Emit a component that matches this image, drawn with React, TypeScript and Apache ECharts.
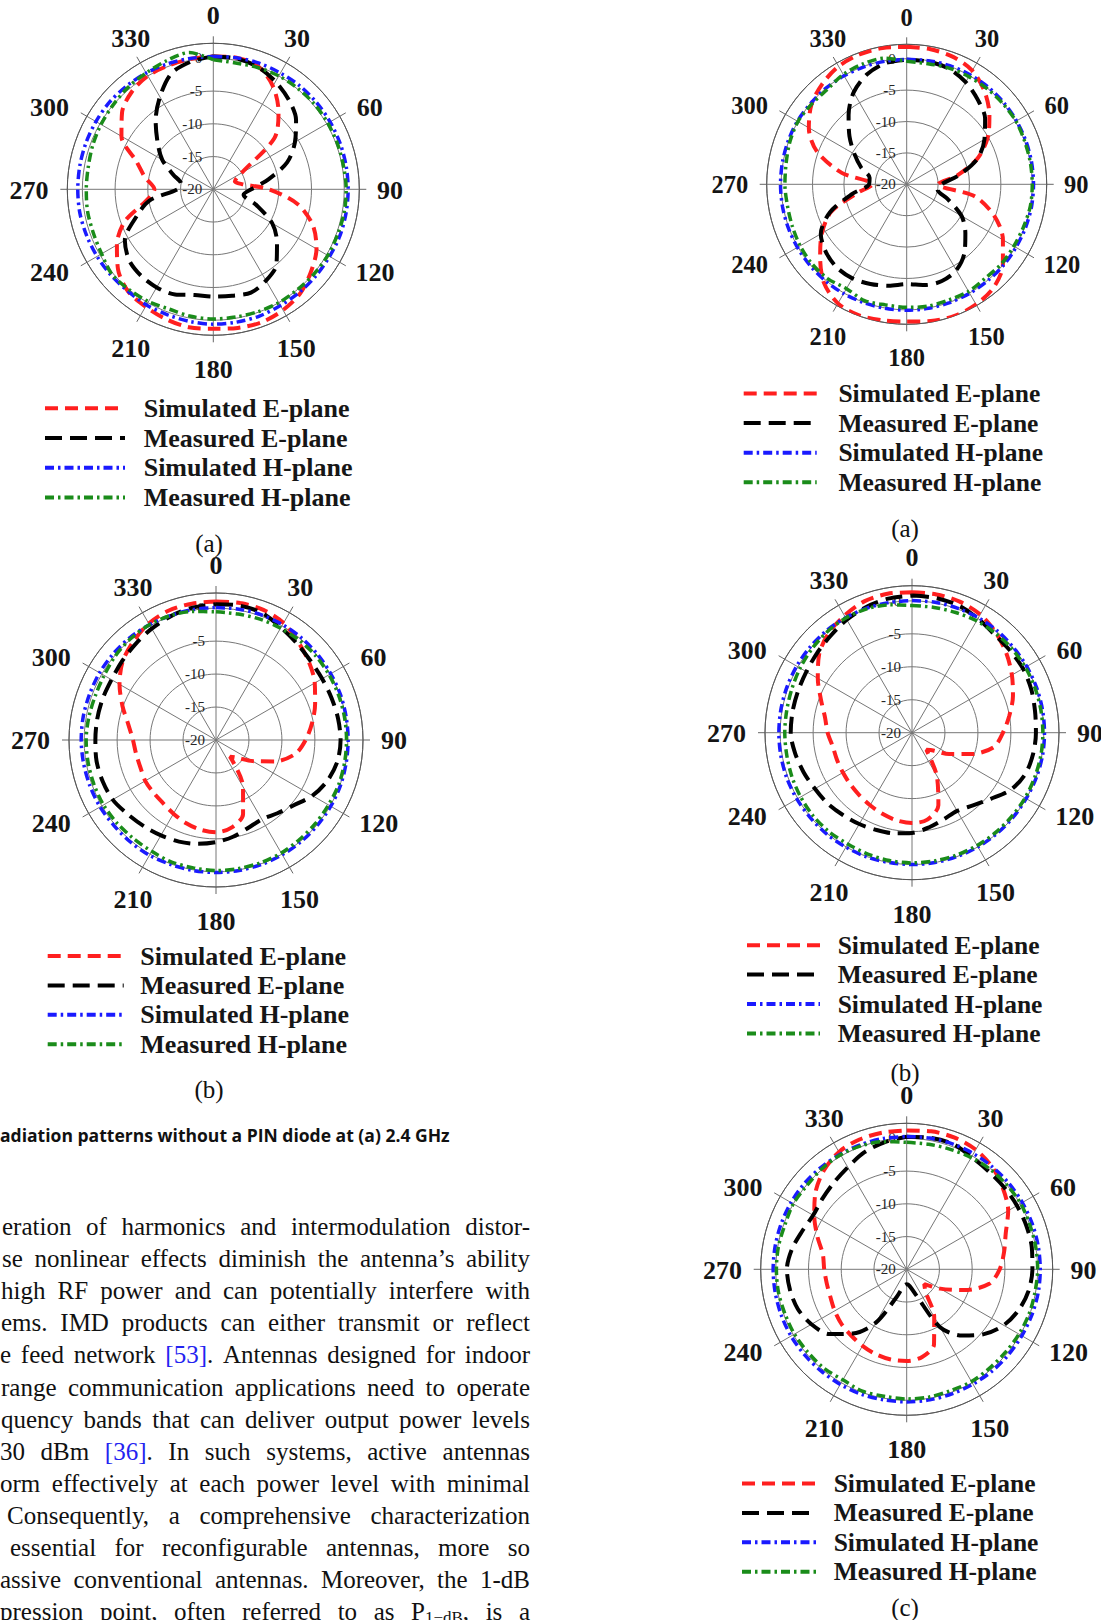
import React, { useEffect, useRef } from "react";
import * as echarts from "echarts";

// ---------- data ----------
const ANGLES = [0, 10, 20, 30, 40, 50, 60, 70, 80, 90, 100, 110, 120, 130, 140, 150, 160, 170, 180, 190, 200, 210, 220, 230, 240, 250, 260, 270, 280, 290, 300, 310, 320, 330, 340, 350];
const ANGLE_TICKS = [0, 30, 60, 90, 120, 150, 180, 210, 240, 270, 300, 330];
const RADIUS_TICKS = [-20, -15, -10, -5, 0];
const SERIES_NAMES = ["Simulated E-plane", "Measured E-plane", "Simulated H-plane", "Measured H-plane"];
const PANEL_LABELS = ["(a)", "(b)", "(a)", "(b)", "(c)"];

// Left (a)
const LA_SIM_E = [0.3, 0.4, 0.0, -1.8, -4.5, -7.8, -15.0, -16.5, -15.5, -11.5, -6.9, -3.8, -1.8, -0.5, 0.7, 1.3, 1.6, 1.5, 1.3, 1.4, 1.1, 0.7, 0.3, -1.0, -3.0, -5.6, -9.5, -11.0, -9.4, -7.5, -3.8, -1.8, -0.6, 0.0, 0.1, 0.2];
const LA_MEAS_E = [0.3, 0.3, -0.1, -1.0, -2.1, -3.5, -5.6, -8.0, -11.5, -14.2, -15.3, -13.0, -9.6, -7.3, -5.0, -3.9, -3.2, -3.5, -3.6, -3.6, -2.9, -2.7, -2.8, -3.2, -4.4, -7.4, -10.1, -14.5, -15.0, -13.5, -11.0, -8.9, -6.3, -3.7, -1.2, -0.2];
const LA_SIM_H = [0.3, 0.4, 0.5, 0.5, 0.6, 0.6, 0.6, 0.6, 0.6, 0.6, 0.6, 0.6, 0.5, 0.5, 0.5, 0.5, 0.6, 0.6, 0.6, 0.5, 0.4, 0.4, 0.3, 0.4, 0.5, 0.6, 0.7, 0.7, 0.7, 0.7, 0.7, 0.7, 0.6, 0.5, 0.4, 0.3];
const LA_MEAS_H = [-0.2, -0.4, -0.2, 0.0, 0.1, 0.2, 0.2, 0.2, 0.2, 0.3, 0.3, 0.2, 0.2, 0.1, 0.0, 0.0, -0.1, -0.2, -0.2, -0.3, -0.5, -0.2, 0.0, 0.2, -0.3, -0.5, -0.5, -0.6, -0.6, -0.4, -0.2, 0.0, 0.3, 0.5, 0.9, 1.2];

// Left (b)
const LB_SIM_E = [1.0, 1.1, 1.0, 0.5, -0.6, -1.6, -2.7, -4.0, -5.2, -6.4, -7.8, -10.5, -13.6, -15.8, -16.7, -11.8, -8.0, -6.5, -6.0, -6.2, -6.6, -7.1, -7.5, -7.6, -7.6, -7.8, -7.7, -7.4, -6.5, -4.9, -3.1, -1.5, -0.5, 0.4, 0.9, 1.0];
const LB_MEAS_E = [0.6, 0.7, 0.5, -0.3, -0.9, -1.3, -1.4, -1.35, -1.2, -1.1, -1.3, -2.0, -3.1, -4.6, -5.5, -6.1, -5.8, -5.1, -4.5, -4.0, -3.6, -3.3, -2.95, -2.5, -1.9, -1.7, -1.6, -1.7, -1.7, -1.7, -1.7, -1.4, -1.0, -0.5, 0.0, 0.4];
const LB_SIM_H = [0.1, 0.15, 0.2, 0.2, 0.2, 0.15, 0.1, 0.1, 0.05, 0.05, 0.05, 0.1, 0.1, 0.1, 0.1, 0.1, 0.1, 0.1, 0.1, 0.1, 0.1, 0.2, 0.2, 0.2, 0.3, 0.35, 0.4, 0.45, 0.45, 0.4, 0.4, 0.35, 0.3, 0.2, 0.1, 0.1];
const LB_MEAS_H = [-0.55, -0.6, -0.5, -0.4, -0.3, -0.2, -0.2, -0.2, -0.2, -0.2, -0.2, -0.2, -0.3, -0.3, -0.3, -0.2, -0.2, -0.2, -0.2, -0.3, -0.3, -0.5, -0.5, -0.4, -0.3, -0.3, -0.3, -0.3, -0.4, -0.5, -0.4, -0.1, 0.1, 0.2, 0.1, -0.2];

// Right (a)
const RA_SIM_E = [1.9, 1.85, 1.6, 0.9, -0.7, -2.8, -5.1, -8.0, -11.8, -15.0, -9.0, -5.1, -2.3, 0.0, 1.5, 2.1, 2.3, 2.1, 1.85, 2.0, 2.2, 1.9, 0.5, -2.0, -4.4, -7.2, -12.0, -14.5, -9.5, -4.8, -2.0, -0.2, 0.9, 1.7, 2.0, 2.05];
const RA_MEAS_E = [-0.15, -0.15, -0.4, -1.2, -2.4, -3.7, -5.7, -8.0, -11.5, -14.5, -15.0, -13.0, -9.9, -7.8, -5.7, -4.2, -3.6, -3.7, -4.1, -3.6, -3.1, -2.7, -2.7, -3.2, -4.2, -7.0, -11.2, -14.0, -14.0, -12.3, -10.4, -8.1, -5.6, -3.1, -1.4, -0.4];
const RA_SIM_H = [-0.1, 0.0, 0.1, 0.15, 0.2, 0.2, 0.2, 0.2, 0.2, 0.2, 0.2, 0.15, 0.1, 0.1, 0.05, 0.05, 0.05, 0.05, 0.05, 0.05, 0.05, 0.1, 0.1, 0.1, 0.1, 0.1, 0.1, 0.1, 0.1, 0.1, 0.1, 0.0, 0.0, -0.05, -0.1, -0.1];
const RA_MEAS_H = [-0.4, -0.5, -0.3, -0.2, -0.1, 0.0, 0.1, 0.0, 0.0, 0.0, 0.0, -0.2, -0.3, -0.3, -0.5, -0.3, -0.4, -0.3, -0.4, -0.5, -0.3, -0.8, -0.4, -0.3, -0.4, -0.6, -0.7, -0.6, -0.5, -0.2, 0.0, -0.2, -0.3, 0.2, 0.4, 0.4];

// Right (b)
const RB_SIM_E = [1.3, 1.3, 1.15, 0.7, -0.2, -1.3, -2.5, -3.7, -5.0, -6.2, -7.4, -10.5, -13.5, -15.8, -16.6, -12.5, -8.3, -6.6, -6.3, -6.5, -6.9, -7.3, -7.6, -7.8, -7.9, -7.9, -7.8, -7.2, -6.6, -5.3, -3.5, -1.6, -0.3, 0.5, 1.2, 1.4];
const RB_MEAS_E = [0.8, 0.75, 0.55, 0.0, -0.55, -0.6, -0.55, -0.75, -1.05, -1.2, -1.35, -1.7, -2.7, -4.4, -5.6, -6.3, -6.0, -5.4, -4.8, -4.5, -4.3, -4.0, -3.7, -3.3, -3.0, -2.5, -2.0, -1.6, -1.6, -1.6, -1.5, -1.2, -0.8, -0.2, 0.3, 0.65];
const RB_SIM_H = [0.05, 0.1, 0.1, 0.15, 0.15, 0.1, 0.1, 0.1, 0.1, 0.1, 0.1, 0.05, 0.0, 0.0, 0.0, 0.0, 0.0, 0.0, 0.0, 0.0, 0.05, 0.05, 0.1, 0.1, 0.15, 0.2, 0.2, 0.2, 0.2, 0.2, 0.2, 0.2, 0.2, 0.15, 0.1, 0.05];
const RB_MEAS_H = [-0.7, -0.7, -0.6, -0.4, -0.3, -0.2, -0.15, -0.15, -0.15, -0.15, -0.15, -0.2, -0.2, -0.25, -0.25, -0.25, -0.25, -0.25, -0.25, -0.3, -0.4, -0.5, -0.4, -0.4, -0.5, -0.6, -0.7, -0.7, -0.7, -0.6, -0.4, -0.2, 0.0, 0.1, 0.0, -0.3];

// Right (c)
const RC_SIM_E = [1.2, 1.4, 1.4, 1.1, 0.35, -0.8, -2.1, -3.9, -4.9, -5.8, -7.2, -10.7, -14.1, -16.5, -15.5, -11.6, -7.8, -6.4, -6.0, -6.0, -6.2, -6.5, -6.8, -7.0, -7.3, -7.6, -7.6, -7.4, -7.0, -5.5, -3.7, -1.8, -0.3, 0.7, 1.1, 1.2];
const RC_MEAS_E = [0.25, 0.4, 0.4, -0.2, -0.5, -0.55, -0.55, -0.55, -0.6, -0.8, -1.1, -1.8, -2.9, -4.6, -6.8, -9.8, -15.8, -17.4, -17.7, -17.4, -15.5, -10.6, -7.2, -4.6, -3.2, -2.3, -1.9, -1.7, -2.2, -3.0, -3.5, -3.2, -2.7, -2.0, -1.0, -0.3];
const RC_SIM_H = [0.3, 0.35, 0.4, 0.4, 0.4, 0.4, 0.4, 0.4, 0.4, 0.4, 0.4, 0.35, 0.3, 0.3, 0.3, 0.25, 0.25, 0.25, 0.25, 0.25, 0.3, 0.3, 0.3, 0.35, 0.4, 0.4, 0.4, 0.4, 0.4, 0.4, 0.4, 0.4, 0.35, 0.3, 0.3, 0.3];
const RC_MEAS_H = [-0.6, -0.6, -0.5, -0.3, -0.1, 0.0, 0.1, 0.0, 0.0, 0.0, -0.1, -0.1, -0.2, -0.3, -0.3, -0.2, -0.3, -0.2, -0.2, -0.3, -0.2, -0.5, -0.3, -0.3, -0.2, -0.2, -0.1, -0.1, -0.1, -0.2, 0.0, -0.1, 0.1, 0.2, 0.1, -0.2];

const PANEL_DATA = [
  [LA_SIM_E, LA_MEAS_E, LA_SIM_H, LA_MEAS_H],
  [LB_SIM_E, LB_MEAS_E, LB_SIM_H, LB_MEAS_H],
  [RA_SIM_E, RA_MEAS_E, RA_SIM_H, RA_MEAS_H],
  [RB_SIM_E, RB_MEAS_E, RB_SIM_H, RB_MEAS_H],
  [RC_SIM_E, RC_MEAS_E, RC_SIM_H, RC_MEAS_H],
];

const BODY_LINES = [
  "eration of harmonics and intermodulation distor-",
  "se nonlinear effects diminish the antenna\u2019s ability",
  "high RF power and can potentially interfere with",
  "ems. IMD products can either transmit or reflect",
  "e feed network [53]. Antennas designed for indoor",
  "range communication applications need to operate",
  "quency bands that can deliver output power levels",
  "30 dBm [36]. In such systems, active antennas",
  "orm effectively at each power level with minimal",
  "Consequently, a comprehensive characterization",
  "essential for reconfigurable antennas, more so",
  "assive conventional antennas. Moreover, the 1-dB",
  "pression point, often referred to as P1\u2212dB, is a",
];
const FIGURE_CAPTION = "adiation patterns without a PIN diode at (a) 2.4 GHz";

// ---------- layout / style ----------
const PANELS = [
  { cx: 213.3, cy: 189.3, r: 146, fs: 26, lab: [209, 543] },
  { cx: 216, cy: 740, r: 147, fs: 26, lab: [209, 1089] },
  { cx: 906.7, cy: 184.3, r: 140, fs: 24.5, lab: [905, 528] },
  { cx: 912, cy: 732.7, r: 147, fs: 26, lab: [905, 1072] },
  { cx: 906.7, cy: 1269.3, r: 146, fs: 26, lab: [905, 1607] },
];
// offset of each angle label's centre from the polar centre (for a 146 px radius)
const LABEL_DX = [0, 83.7, 156.4, 176.7, 161.7, 83, 0, -82.3, -163.7, -184.3, -163.7, -82.3];
const LABEL_DY = [-173.8, -151.3, -81.9, 0.7, 83.4, 158.7, 180.4, 158.7, 83.4, 0.7, -81.9, -151.3];
const LEGENDS = [
  { left: 38, top: 390.3, w: 80, gap: 3.7, pad: 13.7, fs: 26 },
  { left: 40.7, top: 938, w: 76, gap: 3.4, pad: 11.6, fs: 26 },
  { left: 736.7, top: 375.5, w: 73, gap: 3.6, pad: 16.7, fs: 25.5 },
  { left: 740, top: 927.2, w: 73, gap: 3.4, pad: 12.7, fs: 25.5 },
  { left: 735, top: 1465.5, w: 75, gap: 3.4, pad: 11.7, fs: 25.5 },
];
const STYLES = [
  { color: "#ff1f1f", width: 4, dash: [13, 7] },
  { color: "#000000", width: 4, dash: [17, 8] },
  { color: "#1a1aff", width: 3.5, dash: [9, 4, 2.5, 4] },
  { color: "#1a8c1a", width: 3.5, dash: [9, 4, 2.5, 4] },
];
const R_MAX = 2.3;
const SERIF = "Liberation Serif";
const LABEL_MARGIN = -20;

function closeLoop(vals: number[]) {
  const pts = ANGLES.map((a, i) => [vals[i], a]);
  pts.push([vals[0], 360]);
  return pts;
}

let measureCtx: CanvasRenderingContext2D | null = null;
function textWidth(t: string, font: string) {
  if (!measureCtx) measureCtx = document.createElement("canvas").getContext("2d");
  measureCtx!.font = font;
  return measureCtx!.measureText(t).width;
}

// rich styles (paddings) that move each axis label's centre to its offset
function angleRich(p: any) {
  const rich: any = {};
  const B = p.r + LABEL_MARGIN;
  const k = p.r / 146;
  ANGLE_TICKS.forEach((a, i) => {
    const th = (a * Math.PI) / 180;
    const ux = Math.sin(th);
    const uy = -Math.cos(th);
    const w = textWidth(String(a), `bold ${p.fs}px "${SERIF}"`);
    const h = p.fs;
    const dx = LABEL_DX[i] * k - B * ux;
    const dy = LABEL_DY[i] * k - B * uy;
    let pl = 0, pr = 0, pt = 0, pb = 0;
    const hAlign = Math.abs(B * ux) / p.r < 0.3 ? "center" : ux > 0 ? "left" : "right";
    const vAlign = Math.abs(B * uy) / p.r < 0.3 ? "middle" : uy > 0 ? "top" : "bottom";
    if (hAlign === "left") pl = dx - w / 2;
    else if (hAlign === "right") pr = -dx - w / 2;
    else if (dx > 0) pl = 2 * dx; else pr = -2 * dx;
    if (vAlign === "top") pt = dy - h / 2;
    else if (vAlign === "bottom") pb = -dy - h / 2;
    else if (dy > 0) pt = 2 * dy; else pb = -2 * dy;
    rich["t" + a] = {
      padding: [Math.max(0, pt), Math.max(0, pr), Math.max(0, pb), Math.max(0, pl)],
      fontFamily: SERIF, fontWeight: "bold", fontSize: p.fs, color: "#141414",
    };
  });
  return rich;
}

function buildBody(): any[] {
  const FS = 25;
  const SUB = 17;
  const measure = (t: string, fs: number) => textWidth(t, `${fs}px "${SERIF}"`);
  const starts = [2, 2, 1, 1, 0, 1, 1, 0, 0, 7, 10, 0, 0];
  const right = 530;
  const els: any[] = [];
  BODY_LINES.forEach((line, li) => {
    const y = 1226.5 + li * 32.1;
    const words = line.split(" ");
    const wordSegs = words.map((w) => {
      const m = w.match(/^(\[\d+\])(.*)$/);
      if (m) return [{ t: m[1], c: "#2323f0", fs: FS }, { t: m[2], c: "#111", fs: FS }].filter((s) => s.t);
      if (w.startsWith("P1\u2212dB")) return [{ t: "P", c: "#111", fs: FS }, { t: "1\u2212dB", c: "#111", fs: SUB, sub: true }, { t: w.slice(5), c: "#111", fs: FS }].filter((s) => s.t);
      return [{ t: w, c: "#111", fs: FS }];
    });
    const widths = wordSegs.map((segs) => segs.reduce((s, g: any) => s + measure(g.t, g.fs), 0));
    const total = widths.reduce((a, b) => a + b, 0);
    const gap = (right - starts[li] - total) / (words.length - 1);
    let x = starts[li];
    wordSegs.forEach((segs, wi) => {
      let sx = x;
      segs.forEach((g: any) => {
        els.push({
          type: "text", x: sx, y: y + (g.sub ? 6 : 0), silent: true,
          style: { text: g.t, fill: g.c, fontFamily: SERIF, fontSize: g.fs, verticalAlign: "middle", textVerticalAlign: "middle", align: "left", textAlign: "left" },
        });
        sx += measure(g.t, g.fs);
      });
      x += widths[wi] + gap;
    });
  });
  // figure caption (bold sans)
  const w17 = textWidth(FIGURE_CAPTION, `bold 17px "Open Sans"`);
  const capFs = (17 * 450) / w17;
  els.push({
    type: "text", x: 0, y: 1135, silent: true,
    style: { text: FIGURE_CAPTION, fill: "#111", fontFamily: "Open Sans", fontWeight: "bold", fontSize: capFs, verticalAlign: "middle", textVerticalAlign: "middle", align: "left", textAlign: "left" },
  });
  PANELS.forEach((p, i) => {
    els.push({
      type: "text", x: p.lab[0], y: p.lab[1], silent: true,
      style: { text: PANEL_LABELS[i], fill: "#111", fontFamily: SERIF, fontSize: 25, lineHeight: 20, verticalAlign: "middle", textVerticalAlign: "middle", align: "center", textAlign: "center" },
    });
  });
  return els;
}

function buildOption(): any {
  const polar = PANELS.map((p) => ({ center: [p.cx, p.cy], radius: p.r }));
  const angleAxis = PANELS.map((p, i) => ({
    polarIndex: i, type: "value", min: 0, max: 360, interval: 30, startAngle: 90, clockwise: true,
    axisLine: { show: true, lineStyle: { color: "#555", width: 1 } },
    axisTick: { show: true, length: 7, lineStyle: { color: "#666", width: 1 } },
    splitLine: { show: true, lineStyle: { color: "#777", width: 1 } },
    axisLabel: {
      margin: LABEL_MARGIN, fontFamily: SERIF, fontWeight: "bold", fontSize: p.fs, color: "#141414",
      formatter: (v: number) => (ANGLE_TICKS.includes(v) ? `{t${v}|${v}}` : ""),
      rich: angleRich(p),
    },
  }));
  const radiusAxis = PANELS.map((p, i) => ({
    polarIndex: i, type: "value", min: -20, max: R_MAX, interval: 5,
    axisLine: { show: false }, axisTick: { show: false },
    splitLine: { show: true, lineStyle: { color: "#777", width: 1 } },
    axisLabel: {
      margin: 11, fontFamily: SERIF, fontSize: 15, color: "#262626",
      formatter: (v: number) => (RADIUS_TICKS.includes(v) ? String(v) : ""),
    },
  }));
  const series: any[] = [];
  PANEL_DATA.forEach((set, pi) => {
    set.forEach((vals, si) => {
      const st = STYLES[si];
      series.push({
        type: "line", coordinateSystem: "polar", polarIndex: pi, name: SERIES_NAMES[si],
        data: closeLoop(vals), symbol: "none", showSymbol: false, smooth: 0.3, silent: true,
        lineStyle: { color: st.color, width: st.width, type: st.dash },
        itemStyle: { color: st.color }, z: 2 + si,
      });
    });
  });
  const legend = LEGENDS.map((l) => ({
    orient: "vertical", left: l.left, top: l.top, padding: 5, itemWidth: l.w, itemHeight: 12, itemGap: l.gap,
    selectedMode: false, data: SERIES_NAMES,
    lineStyle: { width: 4 },
    itemStyle: { opacity: 0, borderWidth: 0 },
    textStyle: { fontFamily: SERIF, fontWeight: "bold", fontSize: l.fs, lineHeight: l.fs, color: "#161616", padding: [0, 0, 0, l.pad] },
  }));
  return {
    animation: false,
    backgroundColor: "#ffffff",
    polar, angleAxis, radiusAxis, series, legend,
    graphic: { elements: buildBody() },
  };
}

export default function App() {
  const ref = useRef<HTMLDivElement>(null);
  useEffect(() => {
    document.body.style.margin = "0";
    const chart = echarts.init(ref.current!, null, { renderer: "svg" });
    chart.setOption(buildOption());
    return () => chart.dispose();
  }, []);
  return <div ref={ref} style={{ position: "absolute", left: 0, top: 0, width: 1101, height: 1620, background: "#fff" }} />;
}
